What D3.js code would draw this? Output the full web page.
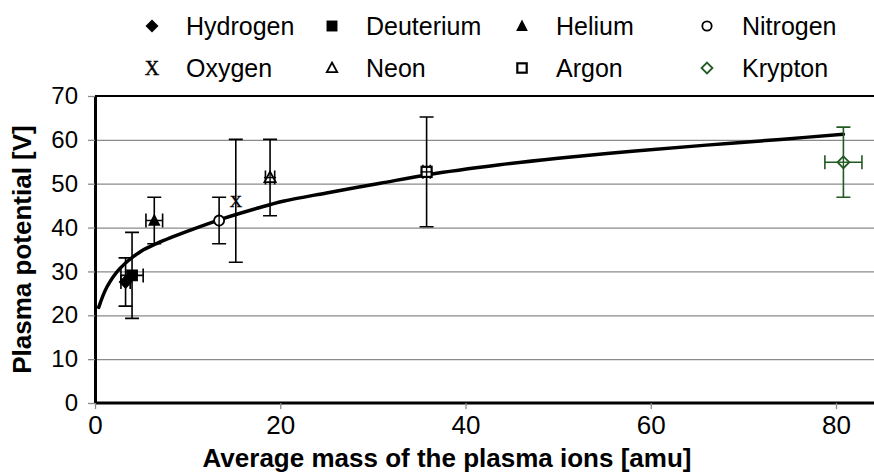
<!DOCTYPE html>
<html>
<head>
<meta charset="utf-8">
<script src="https://cdn.jsdelivr.net/npm/d3@7/dist/d3.min.js"></script>
<style>
  html, body { margin: 0; padding: 0; background: #fff; }
  svg { display: block; font-family: "Liberation Sans", Arial, sans-serif; }
</style>
</head>
<body>
<svg id="chart" width="874" height="472"></svg>
<script>
// Measured plasma potential for each working gas
const species = ["Hydrogen", "Deuterium", "Helium", "Nitrogen", "Oxygen", "Neon", "Argon", "Krypton"];
const massAmu = [3.3, 4.0, 6.4, 13.4, 15.2, 18.9, 35.8, 80.8];
const massErr = [0.5, 1.2, 0.9, 0, 0, 0.5, 0.4, 2.0];
const potentialV = [27.6, 29.1, 41.6, 41.6, 46.1, 51.4, 52.7, 54.9];
const potentialErr = [5.5, 9.8, 5.3, 5.3, 14.0, 8.7, 12.5, 8.0];

// Fitted trend of potential versus ion mass
const fitMass = [0.4, 1.3, 2.7, 4.9, 6.7, 10.3, 13.9, 17.5, 20.3, 25, 30.8, 35.8, 43.7, 50, 58, 66, 74, 80.8];
const fitPotential = [21.8, 26.5, 30.7, 34.5, 36.4, 39.4, 42.1, 44.4, 46.0, 47.9, 50.1, 52.0, 54.3, 55.8, 57.4, 58.8, 60.1, 61.3];

const xTicks = [0, 20, 40, 60, 80];
const yTicks = [0, 10, 20, 30, 40, 50, 60, 70];

const svg = d3.select("#chart");
const x = d3.scaleLinear().domain([0, 85]).range([95, 95 + 85 * 9.2625]);
const y = d3.scaleLinear().domain([0, 70]).range([403, 96]);

const markerColor = d => d === "Krypton" ? "#235a23" : "#000";

// Horizontal grid lines
svg.append("g")
  .attr("transform", `translate(${x(0)},0)`)
  .call(d3.axisLeft(y).tickValues(yTicks.slice(1, -1)).tickSize(-(874 - x(0))).tickFormat(""))
  .call(g => g.select(".domain").remove())
  .call(g => g.selectAll("line").attr("stroke", "#8a8a8a").attr("stroke-width", 1.3));

// Top frame line at the upper bound
svg.append("line")
  .attr("x1", x(0)).attr("x2", 874).attr("y1", y(70)).attr("y2", y(70))
  .attr("stroke", "#000").attr("stroke-width", 2.2);

// Y axis
svg.append("g")
  .attr("transform", `translate(${x(0)},0)`)
  .call(d3.axisLeft(y).tickValues(yTicks).tickSize(7).tickSizeOuter(0).tickPadding(10))
  .call(g => g.select(".domain").attr("stroke", "#000").attr("stroke-width", 3))
  .call(g => g.selectAll(".tick line").attr("stroke", "#8a8a8a").attr("stroke-width", 1.3))
  .call(g => g.selectAll("text").attr("font-size", 24).attr("fill", "#000")
    .attr("font-family", "Liberation Sans, Arial, sans-serif"));

// X axis
svg.append("g")
  .attr("transform", `translate(0,${y(0)})`)
  .call(d3.axisBottom(x).tickValues(xTicks).tickSize(6).tickSizeOuter(0).tickPadding(7))
  .call(g => g.select(".domain").attr("d", `M${x(0)},0H874`).attr("stroke", "#000").attr("stroke-width", 3))
  .call(g => g.selectAll(".tick line").attr("stroke", "#8a8a8a").attr("stroke-width", 1.3))
  .call(g => g.selectAll("text").attr("font-size", 26).attr("fill", "#000")
    .attr("font-family", "Liberation Sans Narrow, Liberation Sans, Arial, sans-serif"));

// Axis titles
svg.append("text")
  .attr("x", 447).attr("y", 467)
  .attr("text-anchor", "middle")
  .attr("font-size", 26).attr("font-weight", "bold").attr("fill", "#000")
  .text("Average mass of the plasma ions [amu]");

svg.append("text")
  .attr("transform", `translate(31,${(y(0) + y(70)) / 2}) rotate(-90)`)
  .attr("text-anchor", "middle")
  .attr("font-size", 26).attr("font-weight", "bold").attr("fill", "#000")
  .text("Plasma potential [V]");

// Trend curve
const line = d3.line().x(d => x(d[0])).y(d => y(d[1])).curve(d3.curveCatmullRom);
svg.append("path")
  .datum(fitMass.map((m, i) => [m, fitPotential[i]]))
  .attr("d", line)
  .attr("fill", "none").attr("stroke", "#000").attr("stroke-width", 3.5)
  .attr("stroke-linejoin", "round").attr("stroke-linecap", "round");

// Error bars
const points = species.map((s, i) => ({
  name: s, m: massAmu[i], dm: massErr[i], v: potentialV[i], dv: potentialErr[i]
}));
const cap = 7;
const eb = svg.append("g").selectAll("g").data(points).join("g")
  .attr("stroke", d => markerColor(d.name)).attr("stroke-width", 1.6).attr("fill", "none");
eb.append("path").attr("d", d => {
  const cx = x(d.m), y1 = y(d.v + d.dv), y2 = y(d.v - d.dv);
  return `M${cx},${y1}V${y2}M${cx - cap},${y1}H${cx + cap}M${cx - cap},${y2}H${cx + cap}`;
});
eb.filter(d => d.dm > 0).append("path").attr("d", d => {
  const cy = y(d.v), x1 = x(d.m - d.dm), x2 = x(d.m + d.dm);
  return `M${x1},${cy}H${x2}M${x1},${cy - cap}V${cy + cap}M${x2},${cy - cap}V${cy + cap}`;
});

// Marker shapes per species
function drawMarker(g, name, size) {
  const col = markerColor(name);
  const s = size;
  switch (name) {
    case "Hydrogen":
      g.append("path").attr("d", `M0,${-s / 2}L${s / 2},0L0,${s / 2}L${-s / 2},0Z`).attr("fill", col);
      break;
    case "Deuterium":
      g.append("rect").attr("x", -s * 0.42).attr("y", -s * 0.42).attr("width", s * 0.84).attr("height", s * 0.84).attr("fill", col);
      break;
    case "Helium":
      g.append("path").attr("d", `M0,${-s * 0.5}L${s * 0.45},${s * 0.38}L${-s * 0.45},${s * 0.38}Z`).attr("fill", col);
      break;
    case "Nitrogen":
      g.append("circle").attr("r", s * 0.36).attr("fill", "#fff").attr("stroke", col).attr("stroke-width", 1.8);
      break;
    case "Oxygen":
      g.append("text").attr("text-anchor", "middle").attr("dy", "0.34em")
        .attr("font-family", "Liberation Serif, Times New Roman, serif")
        .attr("font-size", s * 1.55).attr("fill", col).attr("stroke", col).attr("stroke-width", 0.4)
        .text("X");
      break;
    case "Neon":
      g.append("path").attr("d", `M0,${-s * 0.42}L${s * 0.4},${s * 0.32}L${-s * 0.4},${s * 0.32}Z`)
        .attr("fill", "#fff").attr("stroke", col).attr("stroke-width", 1.8);
      break;
    case "Argon":
      g.append("rect").attr("x", -s * 0.36).attr("y", -s * 0.36).attr("width", s * 0.72).attr("height", s * 0.72)
        .attr("fill", "#fff").attr("stroke", col).attr("stroke-width", 2.2);
      break;
    case "Krypton":
      g.append("path").attr("d", `M0,${-s * 0.42}L${s * 0.42},0L0,${s * 0.42}L${-s * 0.42},0Z`)
        .attr("fill", "#fff").attr("stroke", col).attr("stroke-width", 1.8);
      break;
  }
}

// Data markers
svg.append("g").selectAll("g").data(points).join("g")
  .attr("transform", d => `translate(${x(d.m)},${y(d.v)})`)
  .each(function(d) {
    const g = d3.select(this);
    drawMarker(g, d.name, d.name === "Oxygen" ? 11 : 14);
    if (d.name === "Neon" || d.name === "Argon" || d.name === "Krypton" || d.name === "Nitrogen") {
      // error bar lines show through the open markers
      const col = markerColor(d.name);
      g.append("path").attr("d", "M0,-6V6").attr("stroke", col).attr("stroke-width", 1.4);
      if (d.dm > 0) g.append("path").attr("d", "M-6,0H6").attr("stroke", col).attr("stroke-width", 1.4);
    }
  });

// Legend: four columns, two rows
const legendCols = [152, 332, 522, 707];
const legendRows = [26, 68];
const legendOrder = ["Hydrogen", "Deuterium", "Helium", "Nitrogen", "Oxygen", "Neon", "Argon", "Krypton"];
const legend = svg.append("g").selectAll("g").data(legendOrder).join("g")
  .attr("transform", (d, i) => `translate(${legendCols[i % 4]},${legendRows[Math.floor(i / 4)]})`);
legend.each(function(d) { drawMarker(d3.select(this), d, 13); });
legend.append("text")
  .attr("x", (d, i) => i % 4 === 3 ? 35 : 34)
  .attr("dy", "0.35em")
  .attr("font-size", 25).attr("fill", "#000")
  .text(d => d);
</script>
</body>
</html>
